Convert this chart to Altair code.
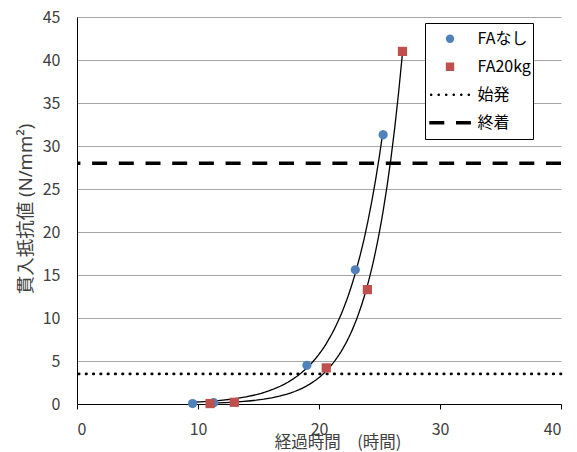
import altair as alt
import pandas as pd

# ---- data ----
series_names = ["FAなし", "FA20kg", "始発", "終着"]
series_colors = ["#4F81BD", "#C0504D", "black", "black"]

x_none = [9.55, 11.3, 19.0, 23.0, 25.3]
y_none = [0.05, 0.15, 4.5, 15.6, 31.3]
x_fa20 = [11.0, 13.0, 20.6, 24.0, 26.9]
y_fa20 = [0.05, 0.2, 4.2, 13.3, 41.0]

ref_names = ["始発", "終着"]
ref_values = [3.5, 28.0]

x_ticks = [0, 10, 20, 30, 40]
y_ticks = [0, 5, 10, 15, 20, 25, 30, 35, 40, 45]

FONT = "Noto Sans CJK JP"
TITLE_FONT = "Noto Sans, Noto Sans CJK JP"

pts = pd.DataFrame({
    "x": x_none + x_fa20,
    "y": y_none + y_fa20,
    "series": ["FAなし"] * len(x_none) + ["FA20kg"] * len(x_fa20),
})
refs = pd.DataFrame({"y": ref_values, "series": ref_names})

# legend glyphs (unit coordinates, scaled by the legend symbol size)
dot_path = " ".join(
    f"M{c - 0.31:.2f},0 a0.31,0.31 0 1,0 0.62,0 a0.31,0.31 0 1,0 -0.62,0"
    for c in [-4.5, -2.7, -0.9, 0.9, 2.7, 4.5]
)
dash_path = "M-4.95,-0.4 H-1.36 V0.4 H-4.95 Z M1.43,-0.4 H5.0 V0.4 H1.43 Z"

xscale = alt.Scale(domain=[0, 40], nice=False, zero=False)
yscale = alt.Scale(domain=[0, 45], nice=False)

xaxis = alt.Axis(
    values=x_ticks, grid=False, ticks=True, tickSize=5, tickColor="black",
    domainColor="black", labelFontSize=16, labelFont=FONT, labelColor="#404040",
    labelPadding=12, title="経過時間\u3000(時間)", titleFont=FONT, titleFontSize=16.5,
    titleFontWeight="normal", titleColor="#404040", titleX=260.5, titleY=38.5,
    titleAlign="center", titleBaseline="middle",
)
yaxis = alt.Axis(
    values=y_ticks, grid=True, gridColor="#A6A6A6", gridWidth=1, ticks=False,
    domainColor="black", labelFontSize=16, labelFont=FONT, labelColor="#404040",
    labelPadding=17, title="貫入抵抗値 (N/mm²)", titleFont=TITLE_FONT, titleFontSize=18.5,
    titleFontWeight="normal", titleColor="#404040", titleX=-52, titleY=191.5,
    titleAlign="center", titleBaseline="middle", titleAngle=270,
)

legend = alt.Legend(
    title=None, orient="none", legendX=348, legendY=6, fillColor="white",
    strokeColor="black", padding=2, symbolSize=70, symbolStrokeWidth=0,
    labelFontSize=16, labelFont=FONT, labelColor="black", rowPadding=0,
    clipHeight=27.5, symbolOffset=15, labelOffset=19.5,
)

points = alt.Chart(pts).mark_point(filled=True, size=85, opacity=1).encode(
    x=alt.X("x:Q", scale=xscale, axis=xaxis),
    y=alt.Y("y:Q", scale=yscale, axis=yaxis),
    color=alt.Color("series:N", scale=alt.Scale(domain=series_names, range=series_colors), legend=legend),
    shape=alt.Shape("series:N", scale=alt.Scale(domain=series_names,
                    range=["circle", "square", dot_path, dash_path]), legend=legend),
)

def curve(name):
    return (
        alt.Chart(pts)
        .transform_filter(alt.datum.series == name)
        .transform_regression("x", "y", method="exp")
        .mark_line(color="black", strokeWidth=1.3)
        .encode(x=alt.X("x:Q", scale=xscale), y=alt.Y("y:Q", scale=yscale))
    )

dotted = alt.Chart(refs).transform_filter(alt.datum.series == "始発").mark_rule(
    color="black", strokeWidth=2.7, strokeDash=[0.5, 6.8], strokeCap="round"
).encode(y=alt.Y("y:Q", scale=yscale))

dashed = alt.Chart(refs).transform_filter(alt.datum.series == "終着").mark_rule(
    color="black", strokeWidth=3.5, strokeDash=[15, 11.7]
).encode(y=alt.Y("y:Q", scale=yscale))

chart = alt.layer(dotted, dashed, curve("FAなし"), curve("FA20kg"), points).properties(
    width=484, height=387,
    autosize=alt.AutoSizeParams(type="none"),
    padding={"left": 77, "top": 17, "right": 16, "bottom": 48},
    background="white",
).configure_view(stroke=None)

chart.save("out.html", embed_options={"renderer": "svg", "actions": False})
